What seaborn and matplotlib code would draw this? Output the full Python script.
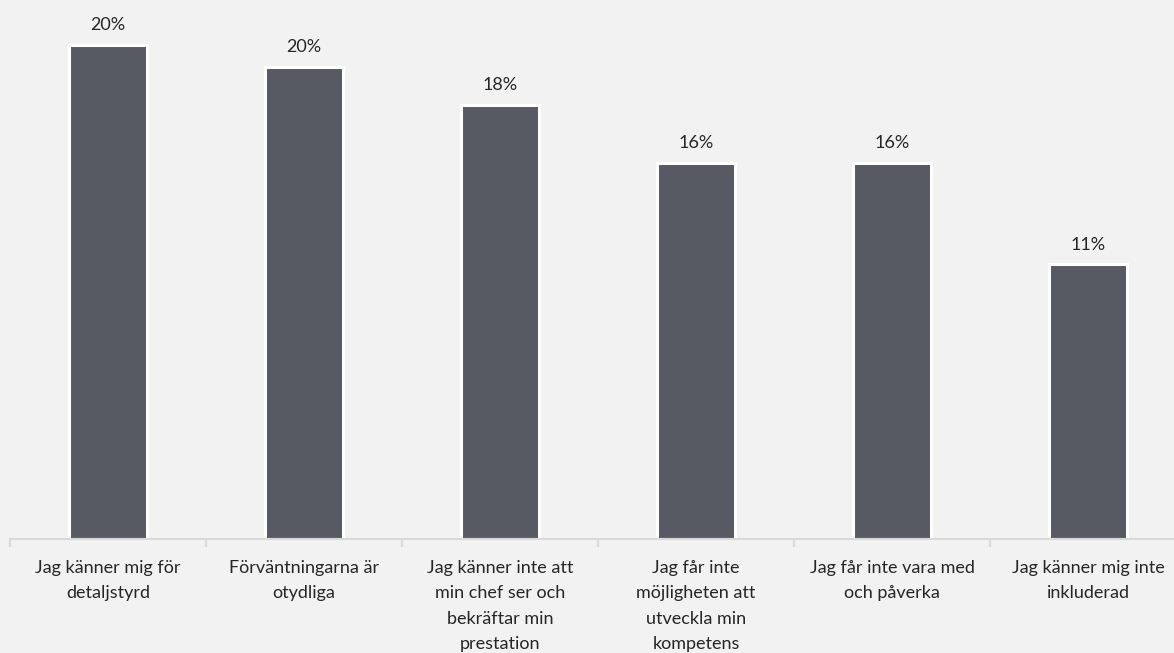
import matplotlib
matplotlib.use("Agg")
import matplotlib.pyplot as plt
import seaborn as sns
import pandas as pd

categories = [
    "Jag känner mig för\ndetaljstyrd",
    "Förväntningarna är\notydliga",
    "Jag känner inte att\nmin chef ser och\nbekräftar min\nprestation",
    "Jag får inte\nmöjligheten att\nutveckla min\nkompetens",
    "Jag får inte vara med\noch påverka",
    "Jag känner mig inte\ninkluderad",
]
shares = [20.5, 19.6, 18.0, 15.6, 15.6, 11.4]

bg = "#f2f2f2"
bar_color = "#575a63"
text_color = "#262626"
axis_color = "#d9d9d9"

sns.set_theme(style="white")
plt.rcParams["font.family"] = ["Lato", "DejaVu Sans"]

df = pd.DataFrame({"category": categories, "share": shares})

W, H = 1174, 653
fig = plt.figure(figsize=(W / 100, H / 100), dpi=100, facecolor=bg)
cat_w = 196
ax = fig.add_axes([10 / W, (H - 539) / H, 6 * cat_w / W, 539 / H])
ax.set_facecolor(bg)

sns.barplot(data=df, x="category", y="share", color=bar_color, width=0.4,
            edgecolor="white", linewidth=2.2, saturation=1, ax=ax)

ax.set_xlim(-0.5, 5.5)
ax.set_ylim(0, 22.37)
ax.set_xlabel("")
ax.set_ylabel("")
ax.set_yticks([])

for s in ["top", "right", "left"]:
    ax.spines[s].set_visible(False)
ax.spines["bottom"].set_color(axis_color)
ax.spines["bottom"].set_linewidth(1.5)

# boundary ticks between categories, labels centred under each bar
ax.set_xticks([i - 0.5 for i in range(7)])
ax.set_xticklabels([])
ax.tick_params(axis="x", which="major", length=6, width=1.5, color=axis_color,
               direction="out", bottom=True)
ax.set_xticks(list(range(len(categories))), minor=True)
ax.set_xticklabels(categories, minor=True, fontsize=13, color=text_color,
                   linespacing=1.72)
ax.tick_params(axis="x", which="minor", length=0, pad=15)

for i, v in enumerate(shares):
    ax.annotate(f"{v:.0f}%", (i, v), xytext=(0, 8.5), textcoords="offset points",
                ha="center", va="bottom", fontsize=13, color=text_color,
                annotation_clip=False)

fig.savefig("out.png", dpi=100, facecolor=bg)
